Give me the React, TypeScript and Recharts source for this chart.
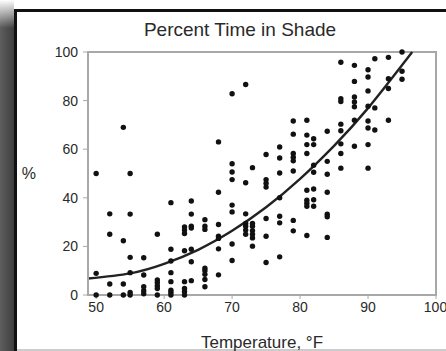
import { ComposedChart, Scatter, Line, XAxis, YAxis, ReferenceArea, Label } from 'recharts';

// temperature columns and the shade percentages observed at each one
const temps = [50, 52, 54, 55, 57, 59, 61, 63, 64, 66, 68, 70, 72, 73, 75, 77, 79, 81, 82, 84, 86, 88, 90, 91, 93, 95];
const shadeValues = [
  [50, 8.9, 0],
  [33.4, 25, 4.5, 0],
  [69, 22.3, 4.5, 0],
  [50, 33.3, 15.5, 9.2, 1, 0],
  [15.3, 8.2, 3.4, 1.8, 0.5],
  [25, 6.2, 5.1, 3.8, 2.7, 0],
  [38, 18.8, 14, 9.2, 5.5, 2, 1, 0],
  [28, 26.7, 25.3, 18.2, 5.5, 2.7, 1.4, 0],
  [38.7, 33.3, 28.3, 27.6, 18.8, 13.7, 5.9],
  [31, 28.3, 27, 11, 10, 8.5, 6.4, 3.4],
  [63, 42.3, 29, 24.2, 23.3, 19, 8.3],
  [82.8, 54, 50.6, 47.5, 37, 34.2, 21, 14.2],
  [86.6, 46.2, 33.4, 29.4, 28.3, 26.7, 25],
  [52.4, 29.4, 28.3, 26.5, 25, 23.5, 20.1],
  [57.8, 47.5, 46, 44.4, 31.5, 24.2, 13.4],
  [60.9, 56.4, 50.2, 40, 32.4, 29.7, 15.7],
  [71.6, 66.2, 58.2, 56.7, 55.2, 51, 30.7, 26.4],
  [71.9, 65.8, 61.9, 58.2, 43.1, 39, 37.8, 36.5, 24.5],
  [64.3, 61.9, 53.4, 50.5, 43.6, 39.2, 36.5],
  [67.4, 55, 49.7, 42.3, 33.2, 32.2, 23.7],
  [95.8, 80.8, 79.6, 70.3, 67.6, 62.2, 58.2, 52.2],
  [94.5, 87.9, 81.5, 79.4, 77.5, 71.9, 61.2],
  [92.7, 89.7, 84, 77.7, 71.6, 68.7, 61.9, 52.2],
  [97.2, 77, 67.9],
  [97.8, 89, 85, 71.9],
  [100, 92.1, 88.8],
];

// trend curve
const trendX = [48.8, 55, 60, 65, 70, 75, 80, 85, 90, 96.5];
const trendY = [6.8, 8.9, 12.8, 18.6, 26.4, 36.1, 47.8, 61.4, 76.9, 100];

const xTicks = [50, 60, 70, 80, 90, 100];
const yTicks = [0, 20, 40, 60, 80, 100];

const points = temps.flatMap((t, i) => shadeValues[i].map((v) => ({ x: t, y: v })));
const trend = trendX.map((x, i) => ({ x, y: trendY[i] }));

const font = '"Liberation Sans", Arial, sans-serif';
const textColor = '#2a2a2a';

const Dot = (props: any) => <circle cx={props.cx} cy={props.cy} r={2.7} fill="#111" />;

export default function App() {
  return (
    <div style={{ position: 'absolute', left: 0, top: 0, width: 446, height: 351, background: '#fff', overflow: 'hidden', fontFamily: font }}>
      {/* left shadow and frame */}
      <div
        style={{
          position: 'absolute', left: 0, top: 0, width: 14, height: 351,
          background: 'linear-gradient(to bottom, #fff 0px, rgba(255,255,255,0) 28px), linear-gradient(to right, #5e5e5e, #3e3e3e)',
        }}
      />
      <div style={{ position: 'absolute', left: 14, top: 9, width: 432, height: 3, background: '#111' }} />
      <div style={{ position: 'absolute', left: 14, top: 9, width: 3, height: 342, background: '#111' }} />
      <div style={{ position: 'absolute', left: 17, top: 349, width: 429, height: 2, background: '#ccc' }} />

      <div style={{ position: 'absolute', left: 0, width: 480, top: 20, lineHeight: '19px', fontSize: 19, textAlign: 'center', color: textColor }}>
        Percent Time in Shade
      </div>

      <div style={{ position: 'absolute', left: 0, top: 0 }}>
        <ComposedChart width={446} height={351} margin={{ top: 52, right: 10, bottom: 26, left: 48 }}>
          <ReferenceArea x1={48.8} x2={100} y1={0} y2={100} fill="none" stroke="#a8a8a8" strokeWidth={2} ifOverflow="visible" />
          <XAxis
            type="number"
            dataKey="x"
            domain={[48.8, 100]}
            ticks={xTicks}
            allowDataOverflow
            height={30}
            tickSize={4}
            tickMargin={3}
            axisLine={{ stroke: '#a8a8a8', strokeWidth: 2 }}
            tickLine={{ stroke: '#a8a8a8' }}
            tick={{ fontSize: 14, fill: textColor, fontFamily: font }}
          >
            <Label value="Temperature, °F" position="bottom" offset={11} fontSize={17} fill={textColor} fontFamily={font} />
          </XAxis>
          <YAxis
            type="number"
            domain={[0, 100]}
            ticks={yTicks}
            width={40}
            tickSize={5}
            tickMargin={5}
            axisLine={{ stroke: '#a8a8a8', strokeWidth: 2 }}
            tickLine={{ stroke: '#a8a8a8' }}
            tick={{ fontSize: 14, fill: textColor, fontFamily: font }}
          >
            <Label value="%" position="left" offset={12} fontSize={16} fill={textColor} fontFamily={font} />
          </YAxis>
          <Scatter data={points} dataKey="y" shape={<Dot />} isAnimationActive={false} />
          <Line data={trend} dataKey="y" type="natural" stroke="#222" strokeWidth={2.4} dot={false} activeDot={false} isAnimationActive={false} />
        </ComposedChart>
      </div>
    </div>
  );
}
